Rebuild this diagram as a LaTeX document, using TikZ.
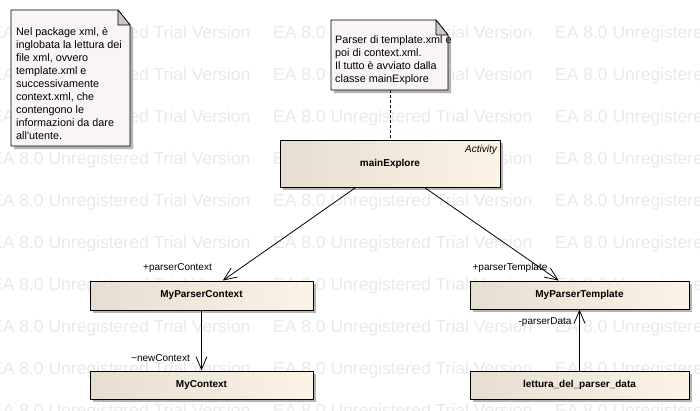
\documentclass[tikz,border=0pt]{standalone}
\usepackage{fontspec}
\setmainfont{Liberation Sans}
\usetikzlibrary{arrows.meta,shadows}
\definecolor{boxleft}{RGB}{230,222,208}
\definecolor{boxright}{RGB}{251,243,229}
\definecolor{notefill}{RGB}{248,244,248}
\definecolor{foldgray}{RGB}{200,200,200}
\definecolor{markgray}{RGB}{233,233,233}
\definecolor{shadowgray}{RGB}{180,180,180}

\begin{document}
\begin{tikzpicture}[x=1pt,y=-1pt,join=round,
    classbox/.style={draw=black,line width=0.9pt,left color=boxleft,right color=boxright,
      general shadow={fill=shadowgray,shadow xshift=3pt,shadow yshift=-3pt},
      inner sep=0pt,font=\fontsize{10}{12}\selectfont\bfseries},
    notetext/.style={anchor=north west,inner sep=0pt,align=left,font=\fontsize{10.8}{13}\selectfont},
    role/.style={inner sep=0pt,font=\fontsize{10}{12}\selectfont},
    assoc/.style={line width=0.8pt,-{Straight Barb[length=13pt,width=11pt]}},
    trial/.style={anchor=west,inner sep=0pt,text=markgray,font=\fontsize{17.5}{20}\selectfont}] % Class Diagram
  \useasboundingbox (0,0) rectangle (700,410);
  \foreach \row in {0,...,9}
    \foreach \col in {0,1,2}
      \node[trial] (trial-\row-\col) at (-9+282*\col,34+42*\row) {EA 8.0 Unregistered Trial Version};
  % notes
  \fill[shadowgray] (14,13)--(121,13)--(133,28)--(133,149)--(14,149)--cycle;
  \filldraw[fill=notefill,line width=0.9pt] (11,10)--(118,10)--(130,25)--(130,146)--(11,146)--cycle;
  \filldraw[fill=foldgray,line width=0.6pt] (118,10)--(130,25)--(118,25)--cycle;
  \node[notetext] (noteXml) at (16,26.4) {\strut Nel package xml, è\\inglobata la lettura dei\\file xml, ovvero\\template.xml e\\successivamente\\context.xml, che\\contengono le\\informazioni da dare\\all\textquotesingle utente.};
  \fill[shadowgray] (334,23)--(439,23)--(451,38)--(451,93)--(334,93)--cycle;
  \filldraw[fill=notefill,line width=0.9pt] (331,20)--(436,20)--(448,35)--(448,90)--(331,90)--cycle;
  \filldraw[fill=foldgray,line width=0.6pt] (436,20)--(448,35)--(436,35)--cycle;
  \node[notetext] (noteParser) at (335,34.4) {\strut Parser di template.xml e\\poi di context.xml.\\Il tutto è avviato dalla\\classe mainExplore};
  \coordinate (noteParserFoot) at (390,90);
  % classes
  \node[classbox,minimum width=220pt,minimum height=47pt] (mainExplore) at (390,163.5) {mainExplore};
  \node[role,font=\fontsize{10}{12}\selectfont\itshape,anchor=east] (mainExploreKind) at (497,150) {Activity};
  \node[classbox,minimum width=223pt,minimum height=29pt] (MyParserContext) at (201.5,295.5) {MyParserContext};
  \node[classbox,minimum width=219pt,minimum height=28pt] (MyParserTemplate) at (579.5,295) {MyParserTemplate};
  \node[classbox,minimum width=223pt,minimum height=28pt] (MyContext) at (201.5,385) {MyContext};
  \node[classbox,minimum width=219pt,minimum height=28pt] (letturaParserData) at (579.5,385) {lettura\_del\_parser\_data};
  \draw[dash pattern=on 3pt off 2pt,line width=0.8pt] (noteParserFoot) -- (mainExplore.north);
  \draw[assoc] (mainExplore) -- (MyParserContext);
  \draw[assoc] (mainExplore) -- (MyParserTemplate);
  \draw[assoc] (MyParserContext) -- (MyContext);
  \draw[assoc] (letturaParserData) -- (MyParserTemplate);
  \node[role] (roleParserContext) at (177.5,268) {+parserContext};
  \node[role] (roleParserTemplate) at (510,268) {+parserTemplate};
  \node[role] (roleNewContext) at (160.5,358) {\textasciitilde newContext};
  \node[role] (roleParserData) at (545,322) {-parserData};
\end{tikzpicture}
\end{document}
